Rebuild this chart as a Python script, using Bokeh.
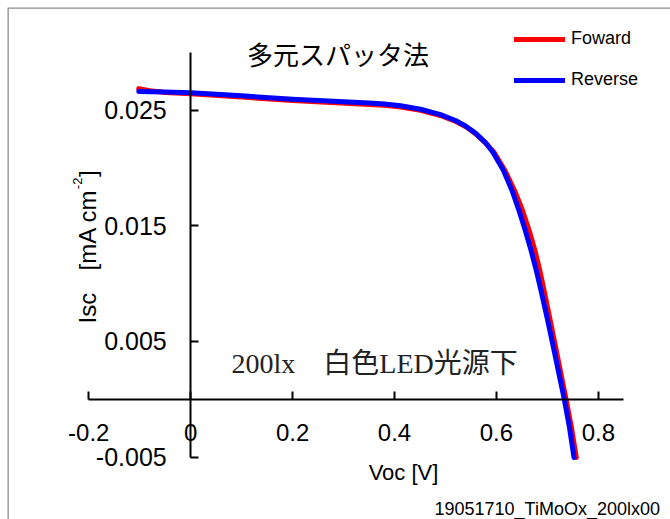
import math
from bokeh.plotting import figure
from bokeh.models import Range1d, FixedTicker, Legend, LegendItem, Label, Span
from bokeh.embed import file_html
from bokeh.resources import INLINE

# ---------------- data ----------------
V_forward = [-0.102, -0.08, -0.05, 0.0, 0.1, 0.2, 0.275, 0.35, 0.38, 0.412, 0.451,
             0.490, 0.520, 0.540, 0.559, 0.579, 0.5943, 0.6168, 0.6355, 0.6512,
             0.6642, 0.6756, 0.6852, 0.6948, 0.7064, 0.7175, 0.7269, 0.7364,
             0.7473, 0.7568]
I_forward = [0.02685, 0.02668, 0.02652, 0.02640, 0.02612, 0.02582, 0.02566, 0.02548,
             0.02541, 0.02527, 0.02498, 0.02453, 0.02402, 0.02355, 0.02295, 0.02213,
             0.02141, 0.01977, 0.01805, 0.01632, 0.01459, 0.01286, 0.01113, 0.00914,
             0.00664, 0.00422, 0.00214, 0.00007, -0.00244, -0.00503]

V_reverse = [-0.102, -0.05, 0.0, 0.1, 0.2, 0.25, 0.35, 0.38, 0.412, 0.451, 0.4902,
             0.5196, 0.5393, 0.5589, 0.5785, 0.5923, 0.6139, 0.6306, 0.6443, 0.6567,
             0.6681, 0.6783, 0.6889, 0.7015, 0.7132, 0.7230, 0.7329, 0.7434, 0.7523]
I_reverse = [0.02660, 0.02655, 0.02649, 0.02623, 0.02594, 0.02583, 0.02560, 0.02552,
             0.02537, 0.02507, 0.02461, 0.02410, 0.02362, 0.02301, 0.02219, 0.02141,
             0.01977, 0.01805, 0.01632, 0.01459, 0.01286, 0.01113, 0.00914, 0.00664,
             0.00422, 0.00214, 0.00007, -0.00244, -0.00503]

series_names = ["Foward", "Reverse"]
x_ticks = [-0.2, 0, 0.2, 0.4, 0.6, 0.8]
x_tick_labels = ["-0.2", "0", "0.2", "0.4", "0.6", "0.8"]
y_ticks = [-0.005, 0.005, 0.015, 0.025]
y_tick_labels = ["-0.005", "0.005", "0.015", "0.025"]
x_bounds = (-0.2, 0.85)
y_bounds = (-0.005, 0.03)

title_text = "多元スパッタ法"
note_text = "200lx\u3000白色LED光源下"
x_label = "Voc [V]"
footer_text = "19051710_TiMoOx_200lx00"

# ---------------- layout ----------------
W, H = 670, 519
FR_L, FR_T = 7, 7          # chart-area border top-left
AX_L, AX_R = 88.3, 623.3   # pixel of x_bounds
AX_T, AX_B = 51.7, 456.7   # pixel of y_bounds (top, bottom)
sx = (AX_R - AX_L) / (x_bounds[1] - x_bounds[0])
sy = (AX_B - AX_T) / (y_bounds[1] - y_bounds[0])


def dx(px):
    return x_bounds[0] + (px - AX_L) / sx


def dy(py):
    return y_bounds[1] - (py - AX_T) / sy


p = figure(width=W, height=H, output_backend="svg", toolbar_location=None,
           x_range=Range1d(dx(FR_L), dx(W)), y_range=Range1d(dy(H), dy(FR_T)),
           min_border=0, min_border_left=FR_L, min_border_top=FR_T, title=None)
p.background_fill_color = "white"
p.border_fill_color = "white"
p.outline_line_color = None
p.grid.visible = False

# chart-area border (only the left and top edges are inside the picture)
p.add_layout(Span(location=dx(7.3), dimension="height", line_color="#8c8c8c",
                  line_width=2))
p.add_layout(Span(location=dy(7.3), dimension="width", line_color="#8c8c8c",
                  line_width=2))

SANS = "Liberation Sans"

# axes crossing at origin
xa = p.xaxis[0]
xa.fixed_location = 0
xa.bounds = x_bounds
xa.ticker = FixedTicker(ticks=x_ticks)
xa.major_label_overrides = {t: l for t, l in zip(x_ticks, x_tick_labels)}
ya = p.yaxis[0]
ya.fixed_location = 0
ya.bounds = y_bounds
ya.ticker = FixedTicker(ticks=y_ticks)
ya.major_label_overrides = {t: l for t, l in zip(y_ticks, y_tick_labels)}
for ax in (xa, ya):
    ax.axis_line_width = 2
    ax.axis_line_color = "black"
    ax.major_tick_line_width = 2
    ax.major_tick_line_color = "black"
    ax.major_tick_in = 8
    ax.major_tick_out = 0
    ax.minor_tick_line_color = None
    ax.major_label_text_font = SANS
    ax.major_label_text_color = "black"
xa.major_label_text_font_size = "24px"
xa.major_label_standoff = 25
ya.major_label_text_font_size = "25px"
ya.major_label_standoff = 24

r_f = p.line(V_forward, I_forward, line_color="#ff0000", line_width=5,
             line_cap="round", line_join="round")
r_r = p.line(V_reverse, I_reverse, line_color="#0000ff", line_width=5,
             line_cap="round", line_join="round")

legend = Legend(items=[LegendItem(label=series_names[0], renderers=[r_f]),
                       LegendItem(label=series_names[1], renderers=[r_r])],
                location=(507, 429), orientation="vertical",
                glyph_width=51, glyph_height=20, label_height=20,
                label_standoff=6, spacing=20, padding=0, margin=0,
                border_line_color=None, background_fill_alpha=0,
                label_text_font=SANS, label_text_font_size="18px",
                label_text_color="black")
p.add_layout(legend)

# texts
p.add_layout(Label(x=dx(337.5), y=dy(53), text=title_text, text_align="center",
                   text_baseline="middle", text_font="Noto Sans CJK JP",
                   text_font_size="26px", text_color="black"))
p.add_layout(Label(x=dx(231), y=dy(362.7), text=note_text, text_align="left",
                   text_baseline="alphabetic",
                   text_font="Liberation Serif, Noto Sans CJK JP",
                   text_font_size="28px", text_color="#222222"))
p.add_layout(Label(x=dx(403), y=dy(472), text=x_label, text_align="center",
                   text_baseline="alphabetic", text_font=SANS,
                   text_font_size="22px", text_color="black"))
# rotated y label in pieces
for txt, px, py, fs in [("Isc", 87, 323, "24px"), ("[mA cm", 87, 270, "24px"),
                        ("-2", 76.5, 188.7, "13px"), ("]", 87, 176.6, "24px")]:
    p.add_layout(Label(x=dx(px), y=dy(py), text=txt, angle=math.pi / 2,
                       text_align="left", text_baseline="alphabetic",
                       text_font=SANS, text_font_size=fs, text_color="black"))
p.add_layout(Label(x=dx(434), y=dy(508), text=footer_text, text_align="left",
                   text_baseline="alphabetic", text_font=SANS,
                   text_font_size="18px", text_color="black"))

open("out.html", "w").write(file_html(p, INLINE))
